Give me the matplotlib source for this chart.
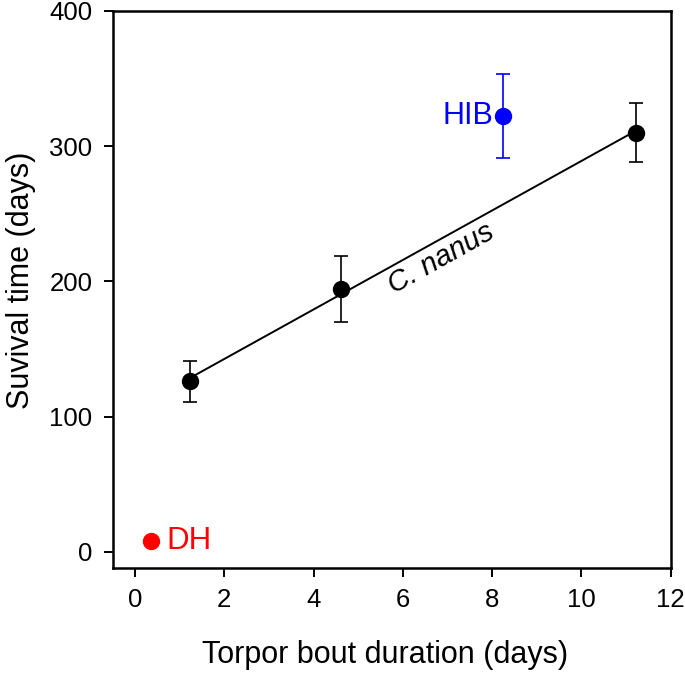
import matplotlib
matplotlib.use("Agg")
import matplotlib.pyplot as plt
import numpy as np

plt.rcParams['font.family'] = ['Liberation Sans', 'DejaVu Sans']

# C. nanus data
nanus_x = [1.23, 4.61, 11.22]
nanus_y = [126, 194, 310]
nanus_lo = [111, 170, 288]
nanus_hi = [141, 219, 332]

# Hibernation (HIB)
hib_x = [8.25]
hib_y = [322]
hib_lo = [291]
hib_hi = [353]

# Daily heterothermy (DH)
dh_x = [0.35]
dh_y = [8]

xticks = [0, 2, 4, 6, 8, 10, 12]
yticks = [0, 100, 200, 300, 400]

fig = plt.figure(figsize=(6.85, 6.74), dpi=100)
ax = fig.add_axes([0.1645, 0.1573, 0.979 - 0.1645, 0.984 - 0.1573])

# regression line
coef = np.polyfit(nanus_x, nanus_y, 1)
lx = np.array([min(nanus_x), max(nanus_x)])
ax.plot(lx, np.polyval(coef, lx), color='black', lw=1.4, zorder=2)

nx = np.array(nanus_x); ny = np.array(nanus_y)
yerr = [ny - np.array(nanus_lo), np.array(nanus_hi) - ny]
ax.errorbar(nx, ny, yerr=yerr, fmt='o', color='black', ms=11.5, capsize=5.2,
            elinewidth=1.2, capthick=1.2, zorder=3)

hx = np.array(hib_x); hy = np.array(hib_y)
herr = [hy - np.array(hib_lo), np.array(hib_hi) - hy]
ax.errorbar(hx, hy, yerr=herr, fmt='o', color='#0000ff', ms=11.5, capsize=5.2,
            elinewidth=1.2, capthick=1.2, zorder=3)

ax.plot(dh_x, dh_y, 'o', color='#ff0000', ms=11.5, zorder=3)

ax.annotate('HIB', xy=(hib_x[0], hib_y[0]), xytext=(-7.5, 0), textcoords='offset points',
            ha='right', va='center', color='#0000ff', fontsize=22)
ax.annotate('DH', xy=(dh_x[0], dh_y[0]), xytext=(11, 0), textcoords='offset points',
            ha='left', va='center', color='#ff0000', fontsize=22.5)
ax.text(6.85, 217, 'C. nanus', style='italic', fontsize=21, rotation=29.2,
        rotation_mode='anchor', ha='center', va='center')

ax.set_xlim(-0.5, 12)
ax.set_ylim(-12, 400)
ax.set_xticks(xticks)
ax.set_yticks(yticks)
ax.tick_params(axis='both', direction='out', length=6.5, width=1.4, labelsize=18.5, pad=8)
for s in ax.spines.values():
    s.set_linewidth(1.8)

ax.set_xlabel('Torpor bout duration (days)', fontsize=22, labelpad=20)
ax.set_ylabel('Suvival time (days)', fontsize=22, labelpad=10)
ax.xaxis.label.set_x(0.488)
ax.yaxis.label.set_y(0.516)

fig.savefig('out.png', dpi=100)
